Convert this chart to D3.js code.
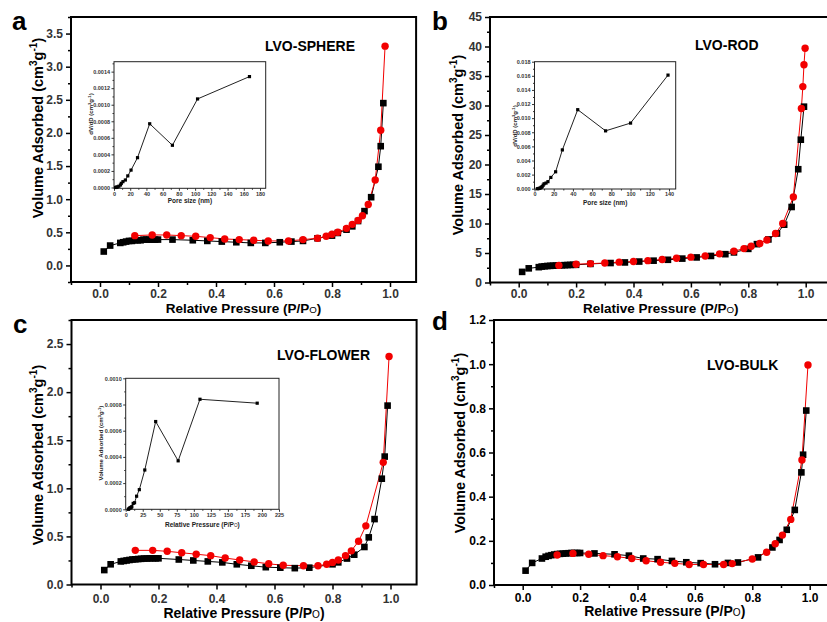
<!DOCTYPE html>
<html>
<head>
<meta charset="utf-8">
<script src="https://cdn.jsdelivr.net/npm/d3@7"></script>
<style>
  body { margin: 0; background: #fff; }
  svg { display: block; font-family: Arial, "Liberation Sans", sans-serif; }
</style>
</head>
<body>
<div id="chart"></div>
<script>
// isotherms: [P/Po, volume]  -- black = adsorption, red = desorption
const sphereAds = [[0.013,0.21],[0.035,0.30],[0.07,0.34],[0.08,0.35],[0.09,0.36],[0.10,0.37],[0.11,0.37],[0.12,0.38],[0.13,0.38],[0.14,0.38],[0.15,0.39],[0.16,0.39],[0.17,0.39],[0.18,0.39],[0.19,0.39],[0.20,0.39],[0.25,0.39],[0.32,0.38],[0.37,0.37],[0.42,0.36],[0.47,0.35],[0.52,0.34],[0.57,0.34],[0.62,0.35],[0.66,0.36],[0.70,0.37],[0.75,0.41],[0.80,0.45],[0.82,0.49],[0.85,0.54],[0.87,0.59],[0.89,0.67],[0.912,0.82],[0.935,1.03],[0.96,1.49],[0.968,1.80],[0.977,2.45]];
const sphereDes = [[0.12,0.45],[0.18,0.46],[0.23,0.46],[0.28,0.45],[0.33,0.44],[0.38,0.42],[0.43,0.40],[0.48,0.39],[0.53,0.38],[0.58,0.37],[0.65,0.37],[0.70,0.39],[0.75,0.41],[0.78,0.44],[0.80,0.47],[0.82,0.50],[0.85,0.56],[0.87,0.62],[0.89,0.68],[0.905,0.75],[0.925,0.92],[0.949,1.29],[0.968,2.04],[0.983,3.31]];

const rodAds = [[0.012,1.8],[0.035,2.4],[0.07,2.6],[0.08,2.7],[0.09,2.75],[0.10,2.8],[0.11,2.82],[0.12,2.85],[0.13,2.87],[0.14,2.9],[0.15,2.92],[0.16,2.94],[0.17,2.96],[0.18,2.98],[0.19,3.0],[0.20,3.0],[0.25,3.15],[0.32,3.3],[0.37,3.4],[0.42,3.55],[0.47,3.7],[0.52,3.85],[0.57,4.05],[0.62,4.25],[0.67,4.5],[0.72,4.8],[0.75,5.1],[0.80,5.7],[0.83,6.5],[0.87,7.3],[0.90,8.3],[0.925,9.8],[0.951,12.8],[0.974,19.2],[0.983,24.2],[0.994,29.8]];
const rodDes = [[0.14,2.9],[0.20,3.1],[0.25,3.2],[0.30,3.3],[0.35,3.45],[0.40,3.55],[0.45,3.7],[0.50,3.9],[0.55,4.1],[0.60,4.3],[0.65,4.5],[0.70,4.85],[0.75,5.3],[0.785,5.75],[0.81,6.15],[0.84,6.6],[0.865,7.2],[0.895,8.3],[0.92,10.0],[0.957,14.5],[0.985,29.5],[0.99,33.2],[0.994,36.9],[0.998,39.7]];

const flowerAds = [[0.013,0.15],[0.035,0.21],[0.07,0.24],[0.08,0.245],[0.09,0.25],[0.10,0.255],[0.11,0.26],[0.12,0.262],[0.13,0.265],[0.14,0.267],[0.15,0.27],[0.16,0.27],[0.17,0.272],[0.18,0.272],[0.19,0.272],[0.20,0.272],[0.27,0.26],[0.32,0.25],[0.37,0.24],[0.42,0.23],[0.47,0.21],[0.52,0.195],[0.57,0.18],[0.62,0.175],[0.67,0.17],[0.72,0.175],[0.80,0.21],[0.82,0.23],[0.85,0.27],[0.875,0.31],[0.91,0.39],[0.925,0.49],[0.945,0.68],[0.97,1.10],[0.98,1.33],[0.99,1.86]];
const flowerDes = [[0.12,0.355],[0.18,0.355],[0.23,0.345],[0.28,0.33],[0.33,0.315],[0.38,0.30],[0.43,0.275],[0.48,0.255],[0.53,0.235],[0.58,0.215],[0.63,0.20],[0.70,0.195],[0.75,0.195],[0.78,0.21],[0.80,0.23],[0.82,0.255],[0.845,0.30],[0.865,0.35],[0.89,0.45],[0.915,0.61],[0.975,1.27],[0.995,2.37]];

const bulkAds = [[0.01,0.065],[0.033,0.10],[0.067,0.12],[0.08,0.128],[0.09,0.132],[0.10,0.135],[0.11,0.138],[0.12,0.14],[0.13,0.141],[0.14,0.142],[0.15,0.143],[0.16,0.144],[0.17,0.145],[0.18,0.145],[0.19,0.145],[0.20,0.145],[0.25,0.143],[0.32,0.139],[0.37,0.133],[0.42,0.12],[0.47,0.117],[0.52,0.109],[0.57,0.103],[0.62,0.099],[0.67,0.094],[0.715,0.10],[0.75,0.102],[0.82,0.125],[0.87,0.17],[0.895,0.204],[0.92,0.25],[0.948,0.34],[0.971,0.51],[0.977,0.59],[0.988,0.79]];
const bulkDes = [[0.12,0.136],[0.175,0.143],[0.23,0.139],[0.28,0.133],[0.33,0.128],[0.38,0.12],[0.43,0.11],[0.48,0.103],[0.53,0.098],[0.58,0.093],[0.63,0.093],[0.70,0.093],[0.73,0.097],[0.80,0.118],[0.85,0.148],[0.88,0.187],[0.905,0.226],[0.934,0.297],[0.973,0.566],[0.994,0.996]];

// insets: pore size distribution
const sphereInsetPore = [2,3,4,6,8,9,11,14,17,21,29,44,72,103,167];
const sphereInsetDv = [0,0.000003,0.000006,0.000015,0.00003,0.00005,0.00007,0.00009,0.00014,0.00021,0.00036,0.00077,0.00051,0.00107,0.00134];
const rodInsetPore = [3,4,5,6,7,8,9,10,12,14,17,22,29,45,74,100,139];
const rodInsetDv = [0,0.00002,0.00005,0.0001,0.0002,0.0003,0.0005,0.0007,0.0008,0.001,0.0016,0.0024,0.0055,0.0112,0.0082,0.0093,0.0161];
const flowerInsetPore = [4,5,6,7,8,9,11,13,16,20,28,44,77,109,193];
const flowerInsetVol = [0,0.000005,0.00001,0.000012,0.000015,0.00002,0.000045,0.00005,0.0001,0.00015,0.0003,0.00067,0.00037,0.00084,0.00081];

// tick labels
const xTicks = [0, 0.2, 0.4, 0.6, 0.8, 1.0];
const sphereYTicks = [0, 0.5, 1.0, 1.5, 2.0, 2.5, 3.0, 3.5];
const rodYTicks = [0, 5, 10, 15, 20, 25, 30, 35, 40, 45];
const flowerYTicks = [0, 0.5, 1.0, 1.5, 2.0, 2.5];
const bulkYTicks = [0, 0.2, 0.4, 0.6, 0.8, 1.0, 1.2];
const sphereInsetXTicks = [0, 20, 40, 60, 80, 100, 120, 140, 160, 180];
const sphereInsetYTicks = [0, 0.0002, 0.0004, 0.0006, 0.0008, 0.0010, 0.0012, 0.0014];
const rodInsetXTicks = [0, 20, 40, 60, 80, 100, 120, 140];
const rodInsetYTicks = [0, 0.002, 0.004, 0.006, 0.008, 0.010, 0.012, 0.014, 0.016, 0.018];
const flowerInsetXTicks = [0, 25, 50, 75, 100, 125, 150, 175, 200, 225];
const flowerInsetYTicks = [0, 0.0002, 0.0004, 0.0006, 0.0008, 0.0010];

const xDomain = [-0.1, 1.09];
const RED = '#f20000';

const svg = d3.select('#chart').append('svg')
  .attr('width', 827).attr('height', 622);

function unitTitle(sel, before, fs) {
  sel.append('tspan').text(before + 'cm');
  sel.append('tspan').attr('dy', -fs * 0.4).attr('font-size', fs * 0.7).text('3');
  sel.append('tspan').attr('dy', fs * 0.4).text('g');
  sel.append('tspan').attr('dy', -fs * 0.4).attr('font-size', fs * 0.7).text('-1');
  sel.append('tspan').attr('dy', fs * 0.4).text(')');
}

function ppTitle(sel, fs) {
  sel.append('tspan').text('Relative Pressure (P/P');
  sel.append('tspan').attr('font-size', fs * 0.72).attr('font-weight', 'normal').text('O');
  sel.append('tspan').text(')');
}

function minorsOf(major, domain) {
  const step = major[1] - major[0];
  return d3.range(-1, major.length).map(i => major[0] + step * (i + 0.5))
    .filter(v => v >= domain[0] - 1e-9 && v <= domain[1] + 1e-9);
}

function styleAxis(g, fs, weight, w) {
  g.select('.domain').remove();
  g.selectAll('.tick line').attr('stroke', '#000').attr('stroke-width', w);
  g.selectAll('.tick text').attr('fill', '#000').attr('font-size', fs)
    .attr('font-weight', weight).attr('font-family', 'Arial, "Liberation Sans", sans-serif');
}

function drawInset(g, ins) {
  const x = d3.scaleLinear().domain(ins.xDomain).range([ins.left, ins.right]);
  const y = d3.scaleLinear().domain(ins.yDomain).range([ins.bottom, ins.top]);
  g.append('rect').attr('x', ins.left).attr('y', ins.top)
    .attr('width', ins.right - ins.left).attr('height', ins.bottom - ins.top)
    .attr('fill', '#fff');

  g.append('g').attr('transform', `translate(0,${ins.bottom})`)
    .call(d3.axisBottom(x).tickValues(minorsOf(ins.xTicks, ins.xDomain)).tickSize(1.5).tickFormat('').tickSizeOuter(0))
    .call(a => styleAxis(a, 6, 'bold', 0.8));
  g.append('g').attr('transform', `translate(0,${ins.bottom})`)
    .call(d3.axisBottom(x).tickValues(ins.xTicks).tickSize(2.5).tickPadding(1).tickSizeOuter(0))
    .call(a => styleAxis(a, 5.5, 'bold', 0.8));
  g.append('g').attr('transform', `translate(${ins.left},0)`)
    .call(d3.axisLeft(y).tickValues(minorsOf(ins.yTicks, ins.yDomain)).tickSize(1.5).tickFormat('').tickSizeOuter(0))
    .call(a => styleAxis(a, 6, 'bold', 0.8));
  g.append('g').attr('transform', `translate(${ins.left},0)`)
    .call(d3.axisLeft(y).tickValues(ins.yTicks).tickSize(2.5).tickPadding(1.5)
      .tickFormat(d3.format(ins.yFmt)).tickSizeOuter(0))
    .call(a => styleAxis(a, 5.5, 'bold', 0.8));
  g.selectAll('.tick text').attr('fill', '#333');

  g.append('rect').attr('x', ins.left).attr('y', ins.top)
    .attr('width', ins.right - ins.left).attr('height', ins.bottom - ins.top)
    .attr('fill', 'none').attr('stroke', '#222').attr('stroke-width', 1);

  const pts = ins.px.map((v, i) => [v, ins.py[i]]);
  g.append('path').datum(pts)
    .attr('d', d3.line().x(d => x(d[0])).y(d => y(d[1])))
    .attr('fill', 'none').attr('stroke', '#222').attr('stroke-width', 1);
  g.append('g').selectAll('rect').data(pts).enter().append('rect')
    .attr('x', d => x(d[0]) - 1.6).attr('y', d => y(d[1]) - 1.6)
    .attr('width', 3.2).attr('height', 3.2).attr('fill', '#000');

  const xt = g.append('text').attr('x', (ins.left + ins.right) / 2).attr('y', ins.xTitleY)
    .attr('text-anchor', 'middle').attr('font-size', 6.5).attr('font-weight', 'bold').attr('fill', '#222');
  if (ins.xTitle) xt.text(ins.xTitle); else ppTitle(xt, 6.5);
  const yt = g.append('text')
    .attr('transform', `translate(${ins.yTitleX},${ins.yTitleY}) rotate(-90)`)
    .attr('text-anchor', 'middle').attr('font-size', 6).attr('font-weight', 'bold').attr('fill', '#222');
  unitTitle(yt, ins.yTitle, 6);
}

function drawPanel(p) {
  const x = d3.scaleLinear().domain(xDomain)
    .range([p.left, p.left + (xDomain[1] - xDomain[0]) * p.unit]);
  const y = d3.scaleLinear().domain(p.yDomain).range([p.bottom, p.top]);
  const g = svg.append('g');

  g.append('g').attr('transform', `translate(0,${p.bottom})`)
    .call(d3.axisBottom(x).tickValues(minorsOf(xTicks, xDomain)).tickSize(3).tickFormat('').tickSizeOuter(0))
    .call(a => styleAxis(a, 12, 'bold', 1.5));
  g.append('g').attr('transform', `translate(0,${p.bottom})`)
    .call(d3.axisBottom(x).tickValues(xTicks).tickSize(5).tickPadding(p.xPad)
      .tickFormat(d3.format('.1f')).tickSizeOuter(0))
    .call(a => styleAxis(a, 12, 'bold', 1.5));
  g.append('g').attr('transform', `translate(${p.left},0)`)
    .call(d3.axisLeft(y).tickValues(minorsOf(p.yTicks, p.yDomain)).tickSize(3).tickFormat('').tickSizeOuter(0))
    .call(a => styleAxis(a, 12, 'bold', 1.5));
  g.append('g').attr('transform', `translate(${p.left},0)`)
    .call(d3.axisLeft(y).tickValues(p.yTicks).tickSize(5).tickPadding(3)
      .tickFormat(d3.format(p.yFmt)).tickSizeOuter(0))
    .call(a => styleAxis(a, 12, 'bold', 1.5));

  g.append('rect').attr('x', p.left).attr('y', p.top)
    .attr('width', x.range()[1] - p.left).attr('height', p.bottom - p.top)
    .attr('fill', 'none').attr('stroke', '#000').attr('stroke-width', 2);

  // axis titles
  const xt = g.append('text').attr('x', (x.range()[0] + x.range()[1]) / 2)
    .attr('y', p.bottom + p.titleOff).attr('text-anchor', 'middle')
    .attr('font-size', p.titleFs).attr('font-weight', 'bold').attr('fill', '#000');
  ppTitle(xt, p.titleFs);
  const yt = g.append('text')
    .attr('transform', `translate(${p.yTitleX},${p.yTitleY}) rotate(-90)`)
    .attr('text-anchor', 'middle').attr('dy', '0.35em')
    .attr('font-size', 14.5).attr('font-weight', 'bold').attr('fill', '#000');
  unitTitle(yt, 'Volume Adsorbed (', 14.5);

  g.append('text').attr('x', p.letterX).attr('y', p.letterY)
    .attr('font-size', 26).attr('font-weight', 'bold').attr('fill', '#000').text(p.letter);
  g.append('text').attr('x', p.nameX).attr('y', p.nameY)
    .attr('font-size', 14).attr('font-weight', 'bold').attr('fill', '#000').text(p.name);

  if (p.inset) drawInset(g, p.inset);

  const line = d3.line().x(d => x(d[0])).y(d => y(d[1]));
  g.append('path').datum(p.ads).attr('d', line)
    .attr('fill', 'none').attr('stroke', '#000').attr('stroke-width', 1);
  g.append('path').datum(p.des).attr('d', line)
    .attr('fill', 'none').attr('stroke', RED).attr('stroke-width', 1);
  g.append('g').selectAll('rect').data(p.ads).enter().append('rect')
    .attr('x', d => x(d[0]) - 3.3).attr('y', d => y(d[1]) - 3.3)
    .attr('width', 6.6).attr('height', 6.6).attr('fill', '#000');
  g.append('g').selectAll('circle').data(p.des).enter().append('circle')
    .attr('cx', d => x(d[0])).attr('cy', d => y(d[1])).attr('r', 3.7).attr('fill', RED);
}

const panels = [
  { letter: 'a', letterX: 12, letterY: 30, name: 'LVO-SPHERE', nameX: 265, nameY: 51,
    ads: sphereAds, des: sphereDes, left: 71, top: 17, bottom: 282, unit: 290,
    yDomain: [-0.25, 3.75], yTicks: sphereYTicks, yFmt: '.1f', xPad: 2, titleOff: 31, titleFs: 13.5,
    yTitleX: 38, yTitleY: 128,
    inset: { left: 114, right: 265.7, top: 61.7, bottom: 188.3, xDomain: [0, 187],
      yDomain: [-0.00001, 0.00152], xTicks: sphereInsetXTicks, yTicks: sphereInsetYTicks, yFmt: '.4f',
      px: sphereInsetPore, py: sphereInsetDv, xTitle: 'Pore size (nm)', xTitleY: 203,
      yTitle: 'dV/dD (', yTitleX: 93, yTitleY: 114 } },
  { letter: 'b', letterX: 432, letterY: 30, name: 'LVO-ROD', nameX: 695, nameY: 50,
    ads: rodAds, des: rodDes, left: 490, top: 17, bottom: 282.5, unit: 287,
    yDomain: [0, 45], yTicks: rodYTicks, yFmt: 'd', xPad: 2, titleOff: 30.5, titleFs: 13.5,
    yTitleX: 458, yTitleY: 145,
    inset: { left: 534.5, right: 675.7, top: 61.7, bottom: 189, xDomain: [0, 147],
      yDomain: [-0.00004, 0.018], xTicks: rodInsetXTicks, yTicks: rodInsetYTicks, yFmt: '.3f',
      px: rodInsetPore, py: rodInsetDv, xTitle: 'Pore size (nm)', xTitleY: 205,
      yTitle: 'dV/dD (', yTitleX: 517, yTitleY: 126 } },
  { letter: 'c', letterX: 13, letterY: 333, name: 'LVO-FLOWER', nameX: 277, nameY: 360,
    ads: flowerAds, des: flowerDes, left: 71.5, top: 320, bottom: 584.5, unit: 290,
    yDomain: [0, 2.75], yTicks: flowerYTicks, yFmt: '.1f', xPad: 5, titleOff: 33, titleFs: 14,
    yTitleX: 38, yTitleY: 455,
    inset: { left: 125.7, right: 279, top: 378.3, bottom: 509.3, xDomain: [0, 225],
      yDomain: [0, 0.001], xTicks: flowerInsetXTicks, yTicks: flowerInsetYTicks, yFmt: '.4f',
      px: flowerInsetPore, py: flowerInsetVol, xTitle: null, xTitleY: 527,
      yTitle: 'Volume Adsorbed (', yTitleX: 103, yTitleY: 443 } },
  { letter: 'd', letterX: 432, letterY: 330, name: 'LVO-BULK', nameX: 707, nameY: 370,
    ads: bulkAds, des: bulkDes, left: 494, top: 320, bottom: 585, unit: 287,
    yDomain: [0, 1.2], yTicks: bulkYTicks, yFmt: '.1f', xPad: 3, titleOff: 31, titleFs: 14,
    yTitleX: 460, yTitleY: 443, inset: null }
];

panels.forEach(drawPanel);
</script>
</body>
</html>
